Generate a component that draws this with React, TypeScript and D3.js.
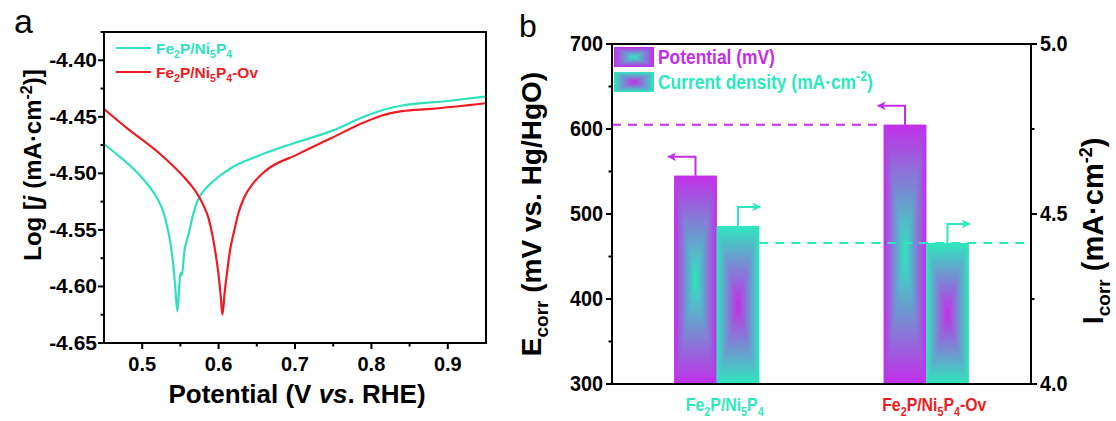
import React from 'react';
import * as d3 from 'd3';

// ---------- Panel a data (Tafel curves) ----------
const tealCurve: [number, number][] = [
  [0.450, -4.474], [0.470, -4.485], [0.487, -4.495], [0.505, -4.508], [0.515, -4.517],
  [0.522, -4.525], [0.528, -4.535], [0.533, -4.548], [0.537, -4.562], [0.540, -4.577],
  [0.543, -4.598], [0.546, -4.622], [0.548, -4.605], [0.550, -4.588], [0.552, -4.590],
  [0.555, -4.570], [0.561, -4.553], [0.566, -4.538], [0.572, -4.525], [0.585, -4.512],
  [0.600, -4.503], [0.617, -4.495], [0.650, -4.485], [0.700, -4.473], [0.750, -4.462],
  [0.790, -4.450], [0.815, -4.444], [0.840, -4.440], [0.900, -4.436], [0.950, -4.432],
];
const redCurve: [number, number][] = [
  [0.450, -4.443], [0.480, -4.460], [0.522, -4.482], [0.557, -4.505], [0.570, -4.516],
  [0.580, -4.528], [0.587, -4.540], [0.592, -4.555], [0.597, -4.575], [0.600, -4.590],
  [0.603, -4.610], [0.605, -4.625], [0.608, -4.605], [0.611, -4.588], [0.615, -4.568],
  [0.620, -4.552], [0.626, -4.535], [0.633, -4.522], [0.645, -4.509], [0.661, -4.498],
  [0.704, -4.483], [0.747, -4.469], [0.790, -4.455], [0.813, -4.449], [0.840, -4.445],
  [0.878, -4.443], [0.950, -4.438],
];
const xTicksA = [0.5, 0.6, 0.7, 0.8, 0.9];
const xMinorA = [0.55, 0.65, 0.75, 0.85];
const yTicksA = [-4.65, -4.6, -4.55, -4.5, -4.45, -4.4];
const yMinorA = [-4.625, -4.575, -4.525, -4.475, -4.425, -4.375];
const seriesNamesA = ['Fe2P/Ni5P4', 'Fe2P/Ni5P4-Ov'];

// ---------- Panel b data ----------
const categories = ['Fe2P/Ni5P4', 'Fe2P/Ni5P4-Ov'];
const potentialValues = [545, 605];
const currentValues = [4.465, 4.415];
const yTicksLeftB = [300, 400, 500, 600, 700];
const yMinorLeftB = [350, 450, 550, 650];
const yTicksRightB = [4.0, 4.5, 5.0];
const yMinorRightB = [4.25, 4.75];

const TEAL = '#2fe0bd';
const RED = '#ee1c22';
const PURPLE = '#c22ee8';
const BARTEAL = '#2ee8bd';

const FONT = '"Liberation Sans", Arial, sans-serif';

function Chem({ s, fs }: { s: string; fs: number }) {
  const parts = s.split(/(\d)/).filter((p) => p.length > 0);
  const out: React.ReactNode[] = [];
  let down = false;
  parts.forEach((p, i) => {
    if (/^\d$/.test(p)) {
      out.push(
        <tspan key={i} dy={down ? 0 : fs * 0.28} fontSize={fs * 0.68}>{p}</tspan>
      );
      down = true;
    } else {
      out.push(
        <tspan key={i} dy={down ? -fs * 0.28 : 0}>{p}</tspan>
      );
      down = false;
    }
  });
  return <>{out}</>;
}

function PyramidBar({ x, y, w, h, scheme }: { x: number; y: number; w: number; h: number; scheme: string }) {
  const cx = x + w / 2;
  const cy = y + h / 2;
  const x1 = x + w;
  const y1 = y + h;
  return (
    <g>
      <rect x={x} y={y} width={w} height={h} fill={`url(#${scheme}-mid)`} />
      <polygon points={`${x},${y} ${x1},${y} ${cx},${cy}`} fill={`url(#${scheme}-top)`} />
      <polygon points={`${x},${y1} ${x1},${y1} ${cx},${cy}`} fill={`url(#${scheme}-bot)`} />
      <polygon points={`${x},${y} ${x},${y1} ${cx},${cy}`} fill={`url(#${scheme}-left)`} />
      <polygon points={`${x1},${y} ${x1},${y1} ${cx},${cy}`} fill={`url(#${scheme}-right)`} />
    </g>
  );
}

function GradDefs({ id, edge, center }: { id: string; edge: string; center: string }) {
  return (
    <>
      <linearGradient id={`${id}-top`} x1="0" y1="0" x2="0" y2="1">
        <stop offset="0" stopColor={edge} />
        <stop offset="1" stopColor={center} />
      </linearGradient>
      <linearGradient id={`${id}-bot`} x1="0" y1="1" x2="0" y2="0">
        <stop offset="0" stopColor={edge} />
        <stop offset="1" stopColor={center} />
      </linearGradient>
      <linearGradient id={`${id}-left`} x1="0" y1="0" x2="1" y2="0">
        <stop offset="0" stopColor={edge} />
        <stop offset="1" stopColor={center} />
      </linearGradient>
      <linearGradient id={`${id}-right`} x1="1" y1="0" x2="0" y2="0">
        <stop offset="0" stopColor={edge} />
        <stop offset="1" stopColor={center} />
      </linearGradient>
      <radialGradient id={`${id}-mid`} cx="0.5" cy="0.5" r="0.5">
        <stop offset="0" stopColor={center} />
        <stop offset="1" stopColor={edge} />
      </radialGradient>
    </>
  );
}

export default function App() {
  const W = 1116, H = 421;

  // ---- Panel a scales
  const ax = { l: 104, r: 486, t: 32, b: 343 };
  const xA = d3.scaleLinear().domain([0.45, 0.95]).range([ax.l, ax.r]);
  const yA = d3.scaleLinear().domain([-4.65, -4.375]).range([ax.b, ax.t]);
  const lineA = d3.line<[number, number]>().x((d) => xA(d[0])).y((d) => yA(d[1])).curve(d3.curveMonotoneX);

  // ---- Panel b scales
  const bx = { l: 612, r: 1031, t: 44, b: 384 };
  const xB = d3.scalePoint<string>().domain(categories).range([bx.l, bx.r]).padding(0.5);
  const yL = d3.scaleLinear().domain([300, 700]).range([bx.b, bx.t]);
  const yR = d3.scaleLinear().domain([4.0, 5.0]).range([bx.b, bx.t]);
  const barW = 42.5;

  const tickFs = 21;

  return (
    <svg width={W} height={H} style={{ display: 'block', position: 'absolute', left: 0, top: 0, background: '#fff' }}>
      <defs>
        <GradDefs id="gp" edge={PURPLE} center={BARTEAL} />
        <GradDefs id="gt" edge={BARTEAL} center={PURPLE} />
        <marker id="arrP" viewBox="0 0 10 10" refX="9" refY="5" markerWidth="4.5" markerHeight="4.5" orient="auto">
          <path d="M0,0 L10,5 L0,10 L3,5 Z" fill={PURPLE} />
        </marker>
        <marker id="arrT" viewBox="0 0 10 10" refX="9" refY="5" markerWidth="4.5" markerHeight="4.5" orient="auto">
          <path d="M0,0 L10,5 L0,10 L3,5 Z" fill={BARTEAL} />
        </marker>
      </defs>

      {/* ================= Panel a ================= */}
      <text x={14} y={33} fontFamily={FONT} fontSize={34}>a</text>
      <path d={lineA(tealCurve) || ''} fill="none" stroke={TEAL} strokeWidth={2.2} />
      <path d={lineA(redCurve) || ''} fill="none" stroke={RED} strokeWidth={2.2} />
      <rect x={ax.l} y={ax.t} width={ax.r - ax.l} height={ax.b - ax.t} fill="none" stroke="#000" strokeWidth={2} />
      {xTicksA.map((t) => (
        <g key={t}>
          <line x1={xA(t)} x2={xA(t)} y1={ax.b} y2={ax.b + 6} stroke="#000" strokeWidth={2} />
          <text x={xA(t)} y={371} textAnchor="middle" fontFamily={FONT} fontWeight="bold" fontSize={tickFs - 1}>{t.toFixed(1)}</text>
        </g>
      ))}
      {xMinorA.map((t) => (
        <line key={t} x1={xA(t)} x2={xA(t)} y1={ax.b} y2={ax.b + 3.5} stroke="#000" strokeWidth={2} />
      ))}
      {yTicksA.map((t) => (
        <g key={t}>
          <line x1={ax.l - 6} x2={ax.l} y1={yA(t)} y2={yA(t)} stroke="#000" strokeWidth={2} />
          <text x={ax.l - 7} y={yA(t) + 7} textAnchor="end" fontFamily={FONT} fontWeight="bold" fontSize={tickFs}>{t.toFixed(2)}</text>
        </g>
      ))}
      {yMinorA.map((t) => (
        <line key={t} x1={ax.l - 3.5} x2={ax.l} y1={yA(t)} y2={yA(t)} stroke="#000" strokeWidth={2} />
      ))}
      <text x={(ax.l + ax.r) / 2 + 2} y={403} textAnchor="middle" fontFamily={FONT} fontWeight="bold" fontSize={26}>
        Potential (V <tspan fontStyle="italic">vs</tspan>. RHE)
      </text>
      <text transform={`translate(41,165) rotate(-90)`} textAnchor="middle" fontFamily={FONT} fontWeight="bold" fontSize={24}>
        Log [<tspan fontStyle="italic">j</tspan> (mA·cm<tspan dy={-9} fontSize={16}>-2</tspan><tspan dy={9}>)]</tspan>
      </text>
      {/* legend a */}
      {seriesNamesA.map((n, i) => (
        <g key={n}>
          <line x1={116} x2={151} y1={48 + i * 24} y2={48 + i * 24} stroke={i === 0 ? TEAL : RED} strokeWidth={2.2} />
          <text x={156} y={54 + i * 24} fontFamily={FONT} fontWeight="bold" fontSize={15.5} fill={i === 0 ? TEAL : RED}>
            <Chem s={n} fs={15.5} />
          </text>
        </g>
      ))}

      {/* ================= Panel b ================= */}
      <text x={519} y={37} fontFamily={FONT} fontSize={32}>b</text>

      {categories.map((c, i) => {
        const cx = xB(c) as number;
        const pTop = yL(potentialValues[i]);
        const cTop = yR(currentValues[i]);
        return (
          <g key={c}>
            <PyramidBar x={cx - barW} y={pTop} w={barW} h={bx.b - pTop} scheme="gp" />
            <PyramidBar x={cx} y={cTop} w={barW} h={bx.b - cTop} scheme="gt" />
            {/* arrows */}
            <path d={`M${cx - barW / 2},${pTop} V${pTop - 19} H${cx - barW - 6}`} fill="none" stroke={PURPLE} strokeWidth={2} markerEnd="url(#arrP)" />
            <path d={`M${cx + barW / 2},${cTop} V${cTop - 19} H${cx + barW + 1}`} fill="none" stroke={BARTEAL} strokeWidth={2} markerEnd="url(#arrT)" />
          </g>
        );
      })}

      {/* dashed reference lines */}
      <line x1={bx.l} x2={(xB(categories[1]) as number) - barW} y1={yL(potentialValues[1])} y2={yL(potentialValues[1])} stroke={PURPLE} strokeWidth={2} strokeDasharray="9,7" />
      <line x1={(xB(categories[0]) as number) + barW} x2={bx.r} y1={yR(currentValues[1])} y2={yR(currentValues[1])} stroke={BARTEAL} strokeWidth={2} strokeDasharray="9,7" />

      {/* frame */}
      <line x1={bx.l} x2={bx.r} y1={bx.t} y2={bx.t} stroke="#000" strokeWidth={2} />
      <line x1={bx.l} x2={bx.r} y1={bx.b} y2={bx.b} stroke="#000" strokeWidth={2} />
      <line x1={bx.l} x2={bx.l} y1={bx.t} y2={bx.b} stroke="#000" strokeWidth={2} />
      <line x1={bx.r} x2={bx.r} y1={bx.t} y2={bx.b} stroke="#000" strokeWidth={2} />

      {yTicksLeftB.map((t) => (
        <g key={t}>
          <line x1={bx.l - 6} x2={bx.l} y1={yL(t)} y2={yL(t)} stroke="#000" strokeWidth={2} />
          <text transform={`translate(${bx.l - 9},${yL(t) + 7}) scale(0.9,1)`} textAnchor="end" fontFamily={FONT} fontWeight="bold" fontSize={22}>{t}</text>
        </g>
      ))}
      {yMinorLeftB.map((t) => (
        <line key={t} x1={bx.l - 3.5} x2={bx.l} y1={yL(t)} y2={yL(t)} stroke="#000" strokeWidth={2} />
      ))}
      {yTicksRightB.map((t) => (
        <g key={t}>
          <line x1={bx.r} x2={bx.r + 6} y1={yR(t)} y2={yR(t)} stroke="#000" strokeWidth={2} />
          <text transform={`translate(${bx.r + 9},${yR(t) + 7}) scale(0.9,1)`} textAnchor="start" fontFamily={FONT} fontWeight="bold" fontSize={22}>{t.toFixed(1)}</text>
        </g>
      ))}
      {yMinorRightB.map((t) => (
        <line key={t} x1={bx.r} x2={bx.r + 3.5} y1={yR(t)} y2={yR(t)} stroke="#000" strokeWidth={2} />
      ))}

      {/* category labels */}
      {categories.map((c, i) => (
        <text key={c} transform={`translate(${(xB(c) as number) + 8},411) scale(0.88,1)`} textAnchor="middle" fontFamily={FONT} fontWeight="bold" fontSize={18} fill={i === 0 ? BARTEAL : RED}>
          <Chem s={c} fs={18} />
        </text>
      ))}

      {/* axis titles */}
      <text transform={`translate(541,${(bx.t + bx.b) / 2}) rotate(-90)`} textAnchor="middle" fontFamily={FONT} fontWeight="bold" fontSize={28}>
        E<tspan dy={7} fontSize={19}>corr</tspan><tspan dy={-7}> (mV vs. Hg/HgO)</tspan>
      </text>
      <text transform={`translate(1103,231) rotate(-90)`} textAnchor="middle" fontFamily={FONT} fontWeight="bold" fontSize={29}>
        I<tspan dy={7} fontSize={19}>corr</tspan><tspan dy={-7}> (mA·cm</tspan><tspan dy={-11} fontSize={18}>-2</tspan><tspan dy={11}>)</tspan>
      </text>

      {/* legend b */}
      <PyramidBar x={614} y={47} w={40} h={20} scheme="gp" />
      <PyramidBar x={614} y={72} w={40} h={20} scheme="gt" />
      <text transform="translate(658,64) scale(0.87,1)" fontFamily={FONT} fontWeight="bold" fontSize={20} fill={PURPLE}>Potential (mV)</text>
      <text transform="translate(658,89) scale(0.87,1)" fontFamily={FONT} fontWeight="bold" fontSize={20} fill={BARTEAL}>
        Current density (mA·cm<tspan dy={-8} fontSize={14}>-2</tspan><tspan dy={8}>)</tspan>
      </text>
    </svg>
  );
}
